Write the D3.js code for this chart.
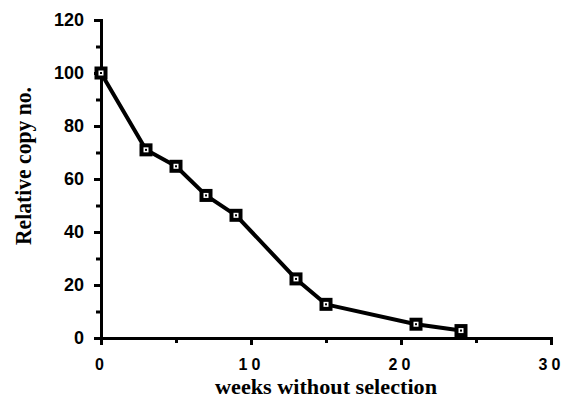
<!DOCTYPE html>
<html>
<head>
<meta charset="utf-8">
<script src="https://cdn.jsdelivr.net/npm/d3@7"></script>
<style>
body { margin: 0; background: white; }
</style>
</head>
<body>
<svg width="564" height="403"></svg>
<script>
// data
const weeks = [0, 3, 5, 7, 9, 13, 15, 21, 24];
const copyNo = [100, 71, 64.8, 53.8, 46.3, 22.3, 12.7, 5.2, 2.8];
const xTicks = [0, 10, 20, 30];
const yTicks = [0, 20, 40, 60, 80, 100, 120];

const svg = d3.select('svg');

const x = d3.scaleLinear().domain([0, 30]).range([101, 551]);
const y = d3.scaleLinear().domain([0, 120]).range([338, 20]);

const g = svg.append('g');

// y axis
const yAxis = g.append('g')
        .attr('transform', `translate(${x(0)},0)`)
        .call(d3.axisLeft(y).tickValues(yTicks).tickSize(7).tickSizeOuter(0).tickPadding(10));
yAxis.append('g')
        .call(d3.axisLeft(y).tickValues(d3.range(10, 120, 20)).tickSize(5).tickFormat(''));

// x axis
const xAxis = g.append('g')
        .attr('transform', `translate(0,${y(0)})`)
        .call(d3.axisBottom(x).tickValues(xTicks).tickSize(7).tickSizeOuter(0).tickPadding(14));
xAxis.append('g')
        .call(d3.axisBottom(x).tickValues([5, 15, 25]).tickSize(5).tickFormat(''));

svg.selectAll('.domain').attr('stroke', '#000').attr('stroke-width', 3);
svg.selectAll('.tick line').attr('stroke', '#000').attr('stroke-width', 3);
svg.selectAll('.tick text')
        .attr('fill', '#000')
        .style('font-family', '"Liberation Sans", Arial, sans-serif')
        .style('font-weight', 'bold');
yAxis.selectAll('.tick text').style('font-size', '18px');
xAxis.selectAll('.tick text').style('font-size', '16px').style('letter-spacing', '4px');

// line
const pts = weeks.map((w, i) => [w, copyNo[i]]);
g.append('path')
        .datum(pts)
        .attr('fill', 'none')
        .attr('stroke', '#000')
        .attr('stroke-width', 4)
        .attr('stroke-linejoin', 'round')
        .attr('d', d3.line().x(d => x(d[0])).y(d => y(d[1])));

// square markers
const m = g.selectAll('.mark').data(pts).enter().append('g')
        .attr('transform', d => `translate(${x(d[0])},${y(d[1])})`);
m.append('rect').attr('x', -6.5).attr('y', -6.5).attr('width', 13).attr('height', 13).attr('fill', '#000');
m.append('rect').attr('x', -2.5).attr('y', -2.5).attr('width', 5).attr('height', 5).attr('fill', '#fff');
m.append('rect').attr('x', -1).attr('y', -1).attr('width', 2).attr('height', 2).attr('fill', '#000');

// axis titles
svg.append('text')
        .attr('x', 326).attr('y', 394)
        .attr('text-anchor', 'middle')
        .attr('textLength', 222)
        .attr('lengthAdjust', 'spacingAndGlyphs')
        .style('font-family', '"Liberation Serif", "Times New Roman", serif')
        .style('font-weight', 'bold')
        .style('font-size', '22px')
        .text('weeks without selection');

svg.append('text')
        .attr('transform', 'translate(31,166) rotate(-90)')
        .attr('text-anchor', 'middle')
        .attr('textLength', 158)
        .attr('lengthAdjust', 'spacingAndGlyphs')
        .style('font-family', '"Liberation Serif", "Times New Roman", serif')
        .style('font-weight', 'bold')
        .style('font-size', '23px')
        .text('Relative copy no.');
</script>
</body>
</html>
